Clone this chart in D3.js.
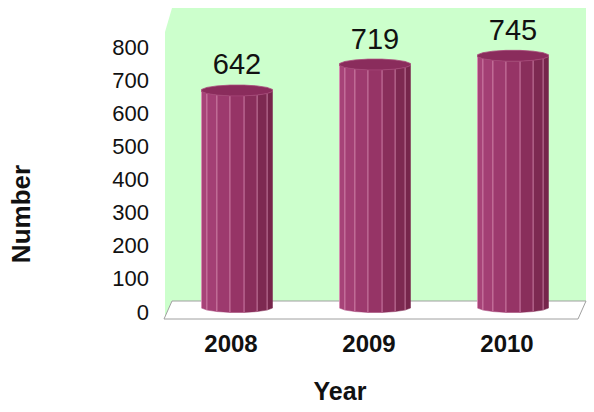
<!DOCTYPE html>
<html><head><meta charset="utf-8">
<script src="https://cdn.jsdelivr.net/npm/d3@7"></script>
<style>body{margin:0;background:#fff;}svg{display:block;font-family:"Liberation Sans",Arial,sans-serif;}</style>
</head><body>
<svg id="c" width="594" height="412"></svg>
<script>
const categories = ["2008", "2009", "2010"];
const values = [642, 719, 745];
const yTicks = [0, 100, 200, 300, 400, 500, 600, 700, 800];
const xTitle = "Year";
const yTitle = "Number";

const svg = d3.select("#c");
const W = 594, H = 412;

// 3D box geometry
const front = {x0: 164, x1: 578, yFloor: 319};
const depth = {dx: 8, dy: -18};
const wallTop = 8;

// scales
const yAxisScale = d3.scaleLinear().domain([0, 800]).range([312, 47]);
const yBar = d3.scaleLinear().domain([0, 800]).range([307, 37.2]);
const x = d3.scaleBand().domain(categories).range([front.x0 + depth.dx/2, front.x1 + depth.dx/2]).padding(0);

// walls
const bx0 = front.x0 + depth.dx, bx1 = front.x1 + depth.dx, byFloor = front.yFloor + depth.dy;
svg.append("polygon")
  .attr("points", [[bx0, wallTop],[bx1, wallTop],[bx1, byFloor],[bx0, byFloor]].join(" "))
  .attr("fill", "#ccffcc");
svg.append("polygon")
  .attr("points", [[front.x0+1, wallTop - depth.dy + 6],[bx0, wallTop],[bx0, byFloor],[front.x0+1, front.yFloor]].join(" "))
  .attr("fill", "#ccffcc");
// floor
svg.append("polygon")
  .attr("points", [[front.x0, front.yFloor],[front.x1, front.yFloor],[bx1, byFloor],[bx0, byFloor]].join(" "))
  .attr("fill", "#ffffff").attr("stroke", "#a0a0a0").attr("stroke-width", 1);

// y axis labels
const yAxis = d3.axisLeft(yAxisScale).tickValues(yTicks).tickSize(0).tickPadding(0);
const gy = svg.append("g").attr("transform", "translate(149,0)").call(yAxis);
gy.select(".domain").remove();
gy.selectAll("text").attr("font-size", 22).attr("fill", "#111").attr("font-family", "Liberation Sans, Arial, sans-serif");

// bars: 16-sided prisms
const N = 16, rx = 35.5 / Math.cos(Math.PI / N), ry = 5.5;
const shade = d3.scaleLinear().domain([-1, 0, 1]).range(["#a8447a", "#963466", "#732449"]);
values.forEach((v, i) => {
  const cx = x(categories[i]) + x.bandwidth()/2;
  const yT = yBar(v), yB = yBar(0);
  const verts = d3.range(N + 1).map(k => {
    const t = (k + 0.5) * 2 * Math.PI / N;
    return {x: cx + rx * Math.cos(t), s: ry * Math.sin(t)};
  });
  const g = svg.append("g");
  for (let k = 0; k < N; k++) {
    const mid = (k + 1) * 2 * Math.PI / N;
    if (Math.sin(mid) <= 0.01) continue;
    const a = verts[k], b = verts[k + 1];
    g.append("polygon")
      .attr("points", [[a.x, yT + a.s],[b.x, yT + b.s],[b.x, yB + b.s],[a.x, yB + a.s]].join(" "))
      .attr("fill", shade(Math.cos(mid))).attr("stroke", shade(Math.cos(mid))).attr("stroke-width", 0.5);
  }
  for (let k = 1; k < N/2; k++) {
    const a = verts[k];
    g.append("line").attr("x1", a.x).attr("x2", a.x).attr("y1", yT + a.s).attr("y2", yB + a.s)
      .attr("stroke", "#e7a0c4").attr("stroke-opacity", 0.75).attr("stroke-width", 0.9);
  }
  g.append("polygon")
    .attr("points", verts.slice(0, N).map(p => [p.x, yT + p.s]).join(" "))
    .attr("fill", "#8a2c5c").attr("stroke", "#a8477a").attr("stroke-width", 0.8);
  // value label
  svg.append("text").attr("x", cx).attr("y", yT - 16)
    .attr("text-anchor", "middle").attr("font-size", 29).attr("fill", "#111")
    .text(v);
});

// category labels
categories.forEach(c => {
  svg.append("text").attr("x", x(c) + x.bandwidth()/2 - 6).attr("y", 352)
    .attr("text-anchor", "middle").attr("font-size", 24).attr("font-weight", "bold").attr("fill", "#111")
    .text(c);
});

// titles
svg.append("text").attr("x", 340).attr("y", 400).attr("text-anchor", "middle")
  .attr("font-size", 25).attr("font-weight", "bold").attr("fill", "#111").text(xTitle);
svg.append("text").attr("transform", "translate(30,214) rotate(-90)").attr("text-anchor", "middle")
  .attr("font-size", 26).attr("font-weight", "bold").attr("fill", "#111").text(yTitle);
</script>
</body></html>
